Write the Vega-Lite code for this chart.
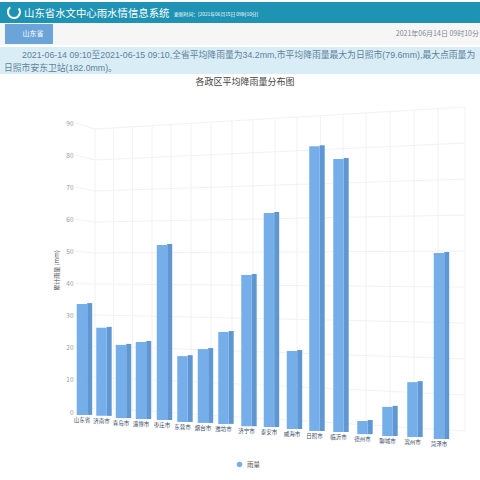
{
"$schema":"https://vega.github.io/schema/vega-lite/v6.json",
"width":394,"height":345,
"autosize":{"type":"none"},
"padding":{"left":76,"top":100,"right":10,"bottom":35},
"background":"#ffffff",
"view":{"stroke":null},
"config":{"font":"Noto Sans CJK SC"},
"title":{"text":"各政区平均降雨量分布图","fontSize":9,"fontWeight":"normal","color":"#444444","font":"Noto Sans CJK SC","anchor":"middle","dx":-28,"offset":-85},
"resolve":{"axis":{"x":"independent","y":"independent"}},
"datasets":{
"cities":[
{"city":"山东省","pos":6,"top":33.6,"floor":-0.9},
{"city":"济南市","pos":25.5,"top":26.2,"floor":-1.2},
{"city":"青岛市","pos":45,"top":20.9,"floor":-1.9},
{"city":"淄博市","pos":65,"top":21.8,"floor":-2.2},
{"city":"枣庄市","pos":86,"top":52.0,"floor":-2.5},
{"city":"东营市","pos":106.5,"top":17.4,"floor":-3.1},
{"city":"烟台市","pos":127,"top":19.6,"floor":-3.4},
{"city":"潍坊市","pos":147.5,"top":24.9,"floor":-3.7},
{"city":"济宁市","pos":170.5,"top":42.7,"floor":-4.4},
{"city":"泰安市","pos":193,"top":62.0,"floor":-4.7},
{"city":"威海市","pos":216,"top":19.0,"floor":-5.3},
{"city":"日照市","pos":238.5,"top":82.8,"floor":-5.9},
{"city":"临沂市","pos":262.5,"top":78.8,"floor":-6.2},
{"city":"德州市","pos":286.5,"top":-2.8,"floor":-6.9},
{"city":"聊城市","pos":311.5,"top":1.6,"floor":-7.5},
{"city":"滨州市","pos":336.5,"top":9.3,"floor":-7.8},
{"city":"菏泽市","pos":363,"top":49.5,"floor":-8.4}
],
"wallLevels":[
{"level":0,"pos":0,"y":0},{"level":0,"pos":19,"y":1.25},{"level":0,"pos":389,"y":-5.92},
{"level":1,"pos":0,"y":10},{"level":1,"pos":19,"y":10.9},{"level":1,"pos":389,"y":5.29},
{"level":2,"pos":0,"y":20},{"level":2,"pos":19,"y":20.56},{"level":2,"pos":389,"y":16.5},
{"level":3,"pos":0,"y":30},{"level":3,"pos":19,"y":30.21},{"level":3,"pos":389,"y":27.71},
{"level":4,"pos":0,"y":40},{"level":4,"pos":19,"y":39.87},{"level":4,"pos":389,"y":38.92},
{"level":5,"pos":0,"y":50},{"level":5,"pos":19,"y":49.52},{"level":5,"pos":389,"y":50.13},
{"level":6,"pos":0,"y":60},{"level":6,"pos":19,"y":59.17},{"level":6,"pos":389,"y":61.34},
{"level":7,"pos":0,"y":70},{"level":7,"pos":19,"y":68.83},{"level":7,"pos":389,"y":72.55},
{"level":8,"pos":0,"y":80},{"level":8,"pos":19,"y":78.48},{"level":8,"pos":389,"y":83.76},
{"level":9,"pos":0,"y":90},{"level":9,"pos":19,"y":88.13},{"level":9,"pos":389,"y":94.97}
],
"wallColumns":[
{"pos":19,"high":88.13,"low":1.25},{"pos":37.5,"high":88.47,"low":0.89},{"pos":56.5,"high":88.82,"low":0.52},
{"pos":76,"high":89.19,"low":0.15},{"pos":95,"high":89.54,"low":-0.22},{"pos":115,"high":89.91,"low":-0.61},
{"pos":135,"high":90.28,"low":-0.99},{"pos":156,"high":90.67,"low":-1.4},{"pos":177,"high":91.06,"low":-1.81},
{"pos":199,"high":91.47,"low":-2.23},{"pos":221,"high":91.87,"low":-2.66},{"pos":244.5,"high":92.31,"low":-3.12},
{"pos":267,"high":92.73,"low":-3.55},{"pos":290,"high":93.15,"low":-4.0},{"pos":314,"high":93.6,"low":-4.46},
{"pos":338,"high":94.04,"low":-4.93},{"pos":362,"high":94.49,"low":-5.39},{"pos":389,"high":94.99,"low":-5.91}
]
},
"layer":[
{"data":{"values":[{}]},"mark":{"type":"rect","color":"#1f93b3"},"encoding":{"x":{"value":-76},"x2":{"value":404},"y":{"value":-98},"y2":{"value":-77}}},
{"data":{"values":[{}]},"mark":{"type":"rect","color":"#f6f6f6"},"encoding":{"x":{"value":-76},"x2":{"value":404},"y":{"value":-77},"y2":{"value":-55}}},
{"data":{"values":[{}]},"mark":{"type":"rect","color":"#6ba4d8"},"encoding":{"x":{"value":-71},"x2":{"value":-23},"y":{"value":-76},"y2":{"value":-56}}},
{"data":{"values":[{}]},"mark":{"type":"rect","color":"#d9edf7"},"encoding":{"x":{"value":-76},"x2":{"value":404},"y":{"value":-53},"y2":{"value":-26}}},
{"data":{"values":[{}]},"mark":{"type":"arc","theta":0.9,"theta2":5.6,"innerRadius":5,"outerRadius":7,"color":"#ffffff"},"encoding":{"x":{"value":-62},"y":{"value":-88}}},
{"data":{"values":[{}]},"mark":{"type":"text","text":"山东省水文中心雨水情信息系统","fontSize":10.4,"color":"#ffffff","align":"left","baseline":"middle"},"encoding":{"x":{"value":-52},"y":{"value":-86}}},
{"data":{"values":[{}]},"mark":{"type":"text","text":"更新时间：[2021年06月15日 09时10分]","fontSize":4.8,"color":"#ffffff","align":"left","baseline":"middle"},"encoding":{"x":{"value":98},"y":{"value":-85.5}}},
{"data":{"values":[{}]},"mark":{"type":"text","text":"山东省","fontSize":7,"color":"#ffffff","align":"center","baseline":"middle"},"encoding":{"x":{"value":-43},"y":{"value":-66}}},
{"data":{"values":[{}]},"mark":{"type":"text","text":"2021年06月14日 09时10分","fontSize":7,"color":"#7d8a90","align":"right","baseline":"middle"},"encoding":{"x":{"value":403},"y":{"value":-66}}},
{"data":{"values":[{}]},"mark":{"type":"text","text":"2021-06-14 09:10至2021-06-15 09:10,全省平均降雨量为34.2mm,市平均降雨量最大为日照市(79.6mm),最大点雨量为","font":"Liberation Sans, Noto Sans CJK SC","fontSize":8.8,"color":"#5f8299","align":"left","baseline":"middle"},"encoding":{"x":{"value":-54},"y":{"value":-45}}},
{"data":{"values":[{}]},"mark":{"type":"text","text":"日照市安东卫站(182.0mm)。","font":"Liberation Sans, Noto Sans CJK SC","fontSize":8.8,"color":"#5f8299","align":"left","baseline":"middle"},"encoding":{"x":{"value":-72},"y":{"value":-32}}},
{"data":{"name":"wallColumns"},"mark":{"type":"rule","color":"#f2f2f2","strokeWidth":1},
 "encoding":{"x":{"field":"pos","type":"quantitative","scale":{"domain":[0,394],"nice":false,"zero":false,"padding":0},"axis":null},
 "y":{"field":"high","type":"quantitative","scale":{"domain":[-10.277,97.165],"nice":false,"zero":false,"padding":0},
  "axis":{"values":[0,10,20,30,40,50,60,70,80,90],"labelOverlap":false,"labelBound":false,"grid":false,"domain":false,"ticks":false,"labelPadding":3,"labelFontSize":6.5,"labelColor":"#9a9a9a","title":"累计雨量 (mm)","titleFontSize":6,"titleFontWeight":"normal","titleColor":"#555555","titleX":-17,"titleY":170}},
 "y2":{"field":"low"}}},
{"data":{"name":"wallLevels"},"mark":{"type":"line","color":"#f2f2f2","strokeWidth":1},
 "encoding":{"x":{"field":"pos","type":"quantitative","axis":null},"y":{"field":"y","type":"quantitative","axis":null},"detail":{"field":"level"}}},
{"data":{"name":"cities"},"mark":{"type":"bar","orient":"vertical","width":5,"xOffset":7.7,"yOffset":-1,"color":"#5f97d2"},
 "encoding":{"x":{"field":"pos","type":"quantitative","axis":null},"y":{"field":"top","type":"quantitative","axis":null},"y2":{"field":"floor"}}},
{"data":{"name":"cities"},"mark":{"type":"bar","orient":"vertical","width":10.5},
 "encoding":{"x":{"field":"pos","type":"quantitative","axis":null},"y":{"field":"top","type":"quantitative","axis":null},"y2":{"field":"floor"},
 "color":{"datum":"雨量","type":"nominal","scale":{"domain":["雨量"],"range":["#76aeea"]},
  "legend":{"title":null,"orient":"none","legendX":160,"legendY":361,"symbolType":"circle","symbolSize":30,"labelFontSize":6.5,"labelColor":"#555555","columnPadding":0}}}},
{"data":{"name":"cities"},"mark":{"type":"text","fontSize":5.5,"color":"#3a4a66","baseline":"top","dy":3},
 "encoding":{"x":{"field":"pos","type":"quantitative","axis":null},"y":{"field":"floor","type":"quantitative","axis":null},"text":{"field":"city"}}}
]
}
